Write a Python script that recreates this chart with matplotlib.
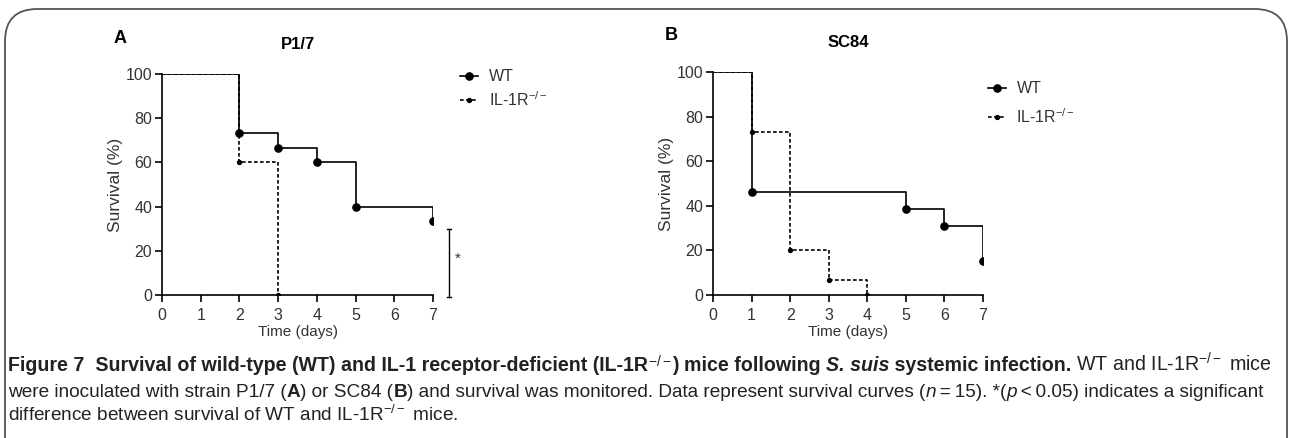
import matplotlib
matplotlib.use('agg')
import matplotlib.pyplot as plt
from matplotlib.patches import FancyBboxPatch

# data
days_a_wt = [0, 2, 3, 4, 5, 7]
surv_a_wt = [100, 73.3, 66.7, 60, 40, 33.3]
days_a_ko = [0, 2, 3]
surv_a_ko = [100, 60, 0]

days_b_wt = [0, 1, 5, 6, 7]
surv_b_wt = [100, 46.2, 38.5, 30.8, 15.4]
days_b_ko = [0, 1, 2, 3, 4]
surv_b_ko = [100, 73.3, 20, 6.7, 0]

xticks = list(range(8))
yticks = [0, 20, 40, 60, 80, 100]

plt.rcParams['font.family'] = ['Liberation Sans', 'DejaVu Sans']
plt.rcParams['mathtext.fontset'] = 'custom'
plt.rcParams['mathtext.rm'] = 'Liberation Sans'
plt.rcParams['mathtext.it'] = 'Liberation Sans:italic'
plt.rcParams['mathtext.bf'] = 'Liberation Sans:bold'

fig = plt.figure(figsize=(12.9, 4.38), dpi=100)
W, H = 1290., 438.

frame = FancyBboxPatch((5 / W, -0.2), 1282 / W, 1.2 - 9 / H,
                       boxstyle='round,pad=0,rounding_size=0.025',
                       transform=fig.transFigure, fill=False,
                       edgecolor='#555555', lw=1.3, mutation_aspect=W / H)
fig.patches.append(frame)

KO = 'IL-1R$^{-/-}$'
dash = (0, (2.2, 1.4))
big, small = 5.2, 2.8


def panel(rect, dw, sw, dk, sk, title, letter, lx, ly, lgap):
    ax = fig.add_axes(rect)
    ax.step(dw, sw, where='post', color='black', lw=1.2)
    ax.plot(dw[1:], sw[1:], 'o', color='black', ms=big)
    ax.step(dk, sk, where='post', color='black', lw=1.2, linestyle=dash)
    ax.plot(dk[1:], sk[1:], 'o', color='black', ms=small)
    ax.set_xlim(0, 7)
    ax.set_ylim(0, 100)
    ax.set_xticks(xticks)
    ax.set_yticks(yticks)
    for s in ('top', 'right'):
        ax.spines[s].set_visible(False)
    for s in ('left', 'bottom'):
        ax.spines[s].set_linewidth(1.2)
    ax.tick_params(direction='out', length=5, width=1.2, labelsize=11.5,
                   labelcolor='#333333')
    ax.tick_params(axis='x', pad=4)
    ax.tick_params(axis='y', pad=2)
    ax.set_xlabel('Time (days)', fontsize=11, color='#333333', labelpad=2)
    ax.set_ylabel('Survival (%)', fontsize=12.5, color='#333333', labelpad=2)
    ax.set_title(title, fontsize=12, fontweight='bold', pad=18)
    ax.text(-0.153, 1.162, letter, transform=ax.transAxes, fontsize=13,
            fontweight='bold', ha='center', va='center')
    # legend drawn by hand in axes fraction
    x0, x1 = lx, lx + 0.066
    ax.plot([x0, x1], [ly, ly], color='black', lw=1.2,
            transform=ax.transAxes, clip_on=False)
    ax.plot([(x0 + x1) / 2], [ly], 'o', color='black', ms=big,
            transform=ax.transAxes, clip_on=False)
    ax.plot([x0, x1], [ly - lgap, ly - lgap], color='black', lw=1.2,
            linestyle=dash, transform=ax.transAxes, clip_on=False)
    ax.plot([(x0 + x1) / 2], [ly - lgap], 'o', color='black', ms=small,
            transform=ax.transAxes, clip_on=False)
    ax.text(x1 + 0.04, ly, 'WT', transform=ax.transAxes, fontsize=11.5,
            va='center', color='#333333')
    ax.text(x1 + 0.04, ly - lgap, KO, transform=ax.transAxes, fontsize=11.5,
            va='center', color='#333333')
    return ax


axA = panel([162 / W, 1 - 295 / H, 271 / W, 221 / H], days_a_wt, surv_a_wt,
            days_a_ko, surv_a_ko, 'P1/7', 'A', 1.10, 0.99, 0.108)
axB = panel([713 / W, 1 - 295 / H, 270 / W, 223 / H], days_b_wt, surv_b_wt,
            days_b_ko, surv_b_ko, 'SC84', 'B', 1.018, 0.928, 0.13)

# significance bracket on panel A
bx = 7.41
axA.plot([bx, bx], [-1, 30], color='black', lw=1, clip_on=False)
axA.plot([bx - 0.05, bx + 0.05], [30, 30], color='black', lw=1, clip_on=False)
axA.plot([bx - 0.05, bx + 0.05], [-1, -1], color='black', lw=1, clip_on=False)
axA.text(bx + 0.22, 16.5, '*', fontsize=11, ha='center', va='center', color='#333333')

# caption
cap_font = ['Liberation Sans', 'DejaVu Sans']
line1 = [('Figure 7  Survival of wild-type (WT) and IL-1 receptor-deficient (IL-1R', 'bold', 'normal'),
         ('$^{-/-}$', 'bold', 'normal'),
         (') mice following ', 'bold', 'normal'),
         ('S. suis', 'bold', 'italic'),
         (' systemic infection.', 'bold', 'normal'),
         (' WT and IL-1R$^{-/-}$ mice', 'normal', 'normal')]
line2 = [('were inoculated with strain P1/7 (', 'normal', 'normal'),
         ('A', 'bold', 'normal'),
         (') or SC84 (', 'normal', 'normal'),
         ('B', 'bold', 'normal'),
         (') and survival was monitored. Data represent survival curves (', 'normal', 'normal'),
         ('n', 'normal', 'italic'),
         ('\u2009=\u200915). *(', 'normal', 'normal'),
         ('p', 'normal', 'italic'),
         ('\u2009<\u20090.05) indicates a significant', 'normal', 'normal')]
line3 = [('difference between survival of WT and IL-1R$^{-/-}$ mice.', 'normal', 'normal')]

renderer = fig.canvas.get_renderer()


def draw_runs(runs, x, y, size):
    for txt, weight, style in runs:
        t = fig.text(x / W, 1 - y / H, txt, fontsize=size, fontweight=weight,
                     fontstyle=style, family=cap_font, va='baseline',
                     color='#222222')
        bb = t.get_window_extent(renderer=renderer)
        x += bb.width


draw_runs(line1, 8, 371, 14.1)
draw_runs(line2, 8, 397, 13.7)
draw_runs(line3, 8, 421, 13.7)

fig.savefig('out.png', dpi=100)
